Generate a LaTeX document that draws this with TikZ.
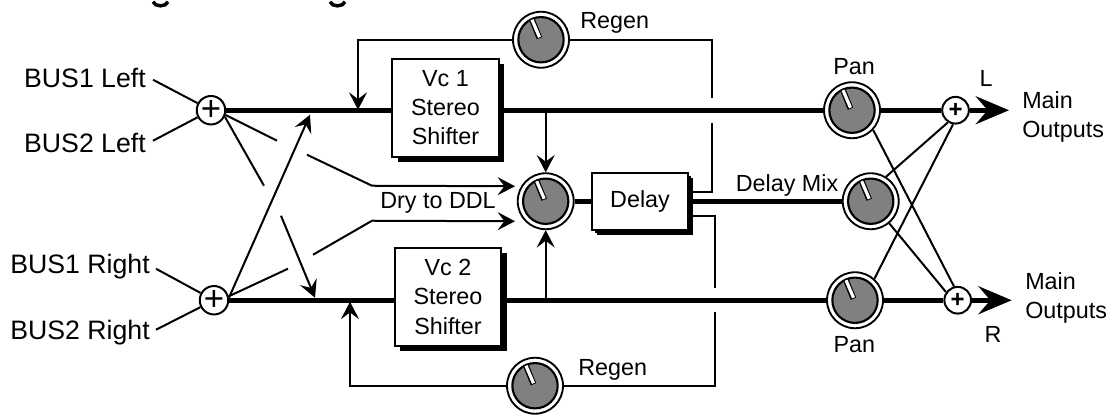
\documentclass[tikz,border=0pt]{standalone}
\usepackage{fontspec}
\setmainfont{Liberation Sans}
\usetikzlibrary{positioning, arrows.meta, shadows}
\definecolor{knobgray}{RGB}{128,128,128}

\begin{document}
\begin{tikzpicture}[
  x=0.75pt, y=-0.75pt,
  txt/.style={font=\fontsize{17.5}{22}\selectfont, inner sep=0pt, align=left},
  buslabel/.style={font=\fontsize{20}{24}\selectfont, inner sep=0pt, anchor=east},
  summer/.style={circle, draw, line width=1.5pt, fill=white, minimum size=21pt, inner sep=0pt,
               font=\fontsize{26}{26}\selectfont},
  smallsummer/.style={summer, minimum size=20pt, font=\bfseries\fontsize{18}{18}\selectfont},
  shifter/.style={draw, line width=1.5pt, fill=white, align=center, inner sep=0pt,
               minimum width=80pt, minimum height=73.5pt, font=\fontsize{17.5}{22}\selectfont,
               drop shadow={shadow xshift=4pt, shadow yshift=-4pt, opacity=1, fill=black}},
  delaybox/.style={shifter, minimum width=72pt, minimum height=43pt,
               drop shadow={shadow xshift=2.5pt, shadow yshift=-2.5pt, opacity=1, fill=black}},
  knob/.style={circle, draw, line width=1.4pt, fill=white, minimum size=42pt, inner sep=0pt,
               path picture={
                 \draw[line width=1.6pt, fill=knobgray, shift={(path picture bounding box.center)}]
                   (0,0) circle[radius=17pt];
                 \draw[line width=4.4pt, shift={(path picture bounding box.center)}] (-1.5,-1.5) -- (-9,-20);
                 \draw[line width=2.4pt, white, shift={(path picture bounding box.center)}] (-1.5,-2.5) -- (-9,-20);
               }},
  wire/.style={line width=1.5pt},
  bus/.style={line width=3.4pt},
  arrow/.style={wire, -{Stealth[length=13pt, width=13.5pt, inset=5pt]}},
  outarrow/.style={bus, -{Stealth[length=25pt, width=21pt, inset=9pt]}},
]
% title remains
\draw[line width=2.6pt] (153,0) .. controls (155,5.5) and (166,5.5) .. (168,0);
\draw[line width=2.6pt] (330,0) .. controls (332,5.5) and (343,5.5) .. (345,0);

% summing points
\node[summer] (sumA) at (211,108.5) {+};
\node[summer] (sumB) at (214,298.5) {+};
\node[smallsummer] (sumC) at (955.5,108.5) {+};
\node[smallsummer] (sumD) at (957.7,298.5) {+};

% inputs
\node[buslabel] (inA) at (146,76) {BUS1 Left};
\node[buslabel] (inB) at (146,141) {BUS2 Left};
\node[buslabel] (inC) at (150,265) {BUS1 Right};
\node[buslabel] (inD) at (150,331) {BUS2 Right};

% blocks
\node[shifter] (vcA) at (445.5,106) {Vc 1\\Stereo\\Shifter};
\node[shifter] (vcB) at (448,295) {Vc 2\\Stereo\\Shifter};
\node[delaybox] (delay) at (640,199.5) {Delay};

% knobs
\node[knob] (regenA) at (541,38) {};
\node[knob] (regenB) at (535,384) {};
\node[knob] (dryMix) at (545.7,199.5) {};
\node[knob] (panA) at (852,108.5) {};
\node[knob] (panB) at (855,298.5) {};
\node[knob] (delayMix) at (870.7,199.5) {};

% labels
\node[txt, above=33pt of panA.center, xshift=1.5pt, anchor=center] (panAtxt) {Pan};
\node[txt, below=33pt of panB.center, xshift=-0.5pt, anchor=center] (panBtxt) {Pan};
\node[txt, anchor=west] (regenAtxt) at (580,21) {Regen};
\node[txt, anchor=west] (regenBtxt) at (578,368) {Regen};
\node[txt] (drytxt) at (438,201) {Dry to DDL};
\node[txt] (mixtxt) at (787,184) {Delay Mix};
\node[txt] (ltxt) at (986,77) {L};
\node[txt] (rtxt) at (993,333) {R};
\node[txt, anchor=west] (outA) at (1022,115.5) {Main\\Outputs};
\node[txt, anchor=west] (outB) at (1025,296.5) {Main\\Outputs};

% free ends
\coordinate (tipA) at (1009,108.5);
\coordinate (tipB) at (1011.7,298.5);
\coordinate (regenJoinA) at (358,108);
\coordinate (regenJoinB) at (350,300);
\coordinate (regenGapA) at (712,96);
\coordinate (regenGapB) at (712,121);
\coordinate (regenOutA) at (692,190);
\coordinate (regenGapC) at (715,286);
\coordinate (regenGapD) at (715,310);
\coordinate (regenOutB) at (692,214);
\coordinate (crossA) at (310,113);
\coordinate (crossB) at (315,296);
\coordinate (gapA) at (277,139);
\coordinate (gapB) at (307,153);
\coordinate (gapC) at (288,267);
\coordinate (gapD) at (313,253);
\coordinate (gapE) at (264,184);
\coordinate (gapF) at (281,214);
\coordinate (dryA) at (372,184);
\coordinate (dryB) at (372,219);
\coordinate (dryEndA) at (515,184.5);
\coordinate (dryEndB) at (515,219.5);

% input wires
\draw[wire] (inA.east) ++(7,2) -- (sumA);
\draw[wire] (inB.east) ++(7,-2) -- (sumA);
\draw[wire] (inC.east) ++(6,2) -- (sumB);
\draw[wire] (inD.east) ++(6,-3) -- (sumB);

% main lines
\draw[bus] (sumA) -- (sumA -| vcA.west);
\draw[bus] (sumA -| vcA.east) -- (panA);
\draw[bus] (panA) -- (sumC);
\draw[outarrow] (sumC) -- (tipA);
\draw[bus] (sumB) -- (sumB -| vcB.west);
\draw[bus] (sumB -| vcB.east) -- (panB);
\draw[bus] (panB) -- (sumD);
\draw[outarrow] (sumD) -- (tipB);
\draw[bus] (dryMix) -- (delay);
\draw[bus] (delay) -- (delayMix);

% feed to the delay
\draw[arrow] (dryMix.north |- sumA) -- (dryMix.north);
\draw[arrow] (dryMix.south |- sumB) -- (dryMix.south);
\draw[wire] (sumA.-18) -- (gapA);
\draw[wire] (gapB) -- (dryA);
\draw[arrow] (dryA) -- (dryEndA);
\draw[wire] (sumB.15) -- (gapC);
\draw[wire] (gapD) -- (dryB);
\draw[arrow] (dryB) -- (dryEndB);

% cross feeds
\draw[wire] (sumA.-25) -- (gapE);
\draw[arrow] (gapF) -- (crossB);
\draw[arrow] (sumB.10) -- (crossA);

% regen loops
\draw[arrow] (regenA) -| (regenJoinA);
\draw[wire] (regenA) -| (regenGapA);
\draw[wire] (regenGapB) |- (regenOutA);
\draw[arrow] (regenB) -| (regenJoinB);
\draw[wire] (regenB) -| (regenGapD);
\draw[wire] (regenGapC) |- (regenOutB);

% pan to outputs
\draw[wire] (panA.-43) -- (sumD.105);
\draw[wire] (panB.48) -- (sumC.-100);
\draw[wire] (delayMix.58) -- (sumC.-122);
\draw[wire] (delayMix.-50) -- (sumD.145);

\useasboundingbox (0,0) rectangle (1112,412);
\end{tikzpicture}
\end{document}
